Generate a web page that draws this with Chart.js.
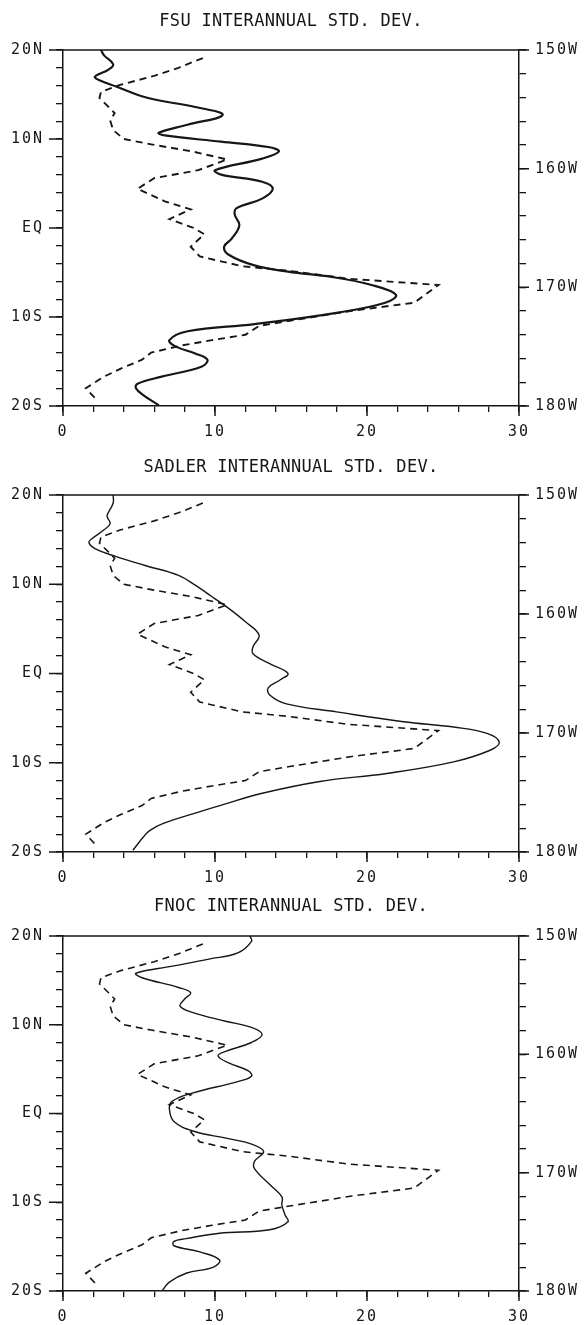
<!DOCTYPE html>
<html>
<head>
<meta charset="utf-8">
<script src="https://cdn.jsdelivr.net/npm/chart.js"></script>
<style>
  body { margin: 0; background: #fff; width: 585px; height: 1325px; overflow: hidden; position: relative; }
  canvas { position: absolute; left: 0; }
</style>
</head>
<body>
<canvas id="fsu" width="585" height="446" style="top:0"></canvas>
<canvas id="sadler" width="585" height="446" style="top:446px"></canvas>
<canvas id="fnoc" width="585" height="433" style="top:892px"></canvas>
<script>
// axis ticks
const stdTicks = [0, 10, 20, 30];
const latTicks = [20, 10, 0, -10, -20];
const latLabels = ['20N', '10N', 'EQ', '10S', '20S'];
const lonTicks = [150, 160, 170, 180];
const lonLabels = ['150W', '160W', '170W', '180W'];

// dashed curve (same in all three panels): latitude, std. dev.
const obsLat = [19.1, 18.0, 17.1, 16.1, 15.3, 14.6, 13.6, 12.9, 12.1, 11.0, 10.0, 9.4, 8.6, 7.7, 6.5, 5.6, 4.4, 3.0, 2.1, 1.0, 0.0, -0.7, -2.1, -3.2, -4.3, -4.8, -5.7, -6.4, -8.4, -9.3, -10.4, -11.0, -12.0, -12.6, -13.2, -14.0, -14.8, -15.8, -16.7, -18.0, -19.1];
const obsStd = [9.2, 7.6, 6.0, 3.8, 2.5, 2.4, 3.0, 3.4, 3.1, 3.3, 4.0, 5.8, 8.5, 10.8, 8.9, 6.0, 4.9, 6.7, 8.4, 7.0, 8.6, 9.3, 8.4, 9.0, 11.8, 14.8, 18.8, 24.7, 23.1, 19.0, 15.0, 12.9, 12.0, 9.8, 7.8, 5.8, 5.2, 3.8, 2.7, 1.5, 2.1];

// FSU solid
const fsuLat = [20.0, 19.4, 18.4, 17.8, 17.0, 16.6, 15.9, 14.6, 13.6, 12.7, 11.6, 10.7, 10.4, 9.7, 9.1, 8.6, 7.8, 6.5, 6.0, 5.2, 4.4, 3.3, 2.2, 1.5, 0.3, -1.2, -2.1, -3.0, -4.2, -4.9, -5.5, -6.4, -7.5, -8.4, -9.5, -10.8, -11.6, -12.6, -13.3, -14.1, -14.8, -15.6, -16.7, -17.5, -18.0, -18.8, -19.9];
const fsuStd = [2.5, 2.7, 3.3, 3.0, 2.1, 2.4, 3.5, 5.6, 8.7, 10.5, 8.2, 6.3, 6.7, 10.4, 13.5, 14.2, 13.1, 10.0, 10.4, 13.1, 13.8, 13.1, 11.4, 11.3, 11.6, 11.1, 10.6, 10.9, 12.6, 14.8, 17.7, 20.3, 21.9, 21.2, 18.1, 12.6, 8.2, 7.0, 7.4, 8.7, 9.5, 9.1, 6.5, 4.9, 4.8, 5.3, 6.3];

// SADLER solid
const sadLat = [20.0, 19.1, 18.1, 17.6, 16.8, 16.1, 15.1, 14.7, 14.0, 13.1, 12.1, 11.0, 9.9, 8.6, 7.3, 5.8, 4.3, 3.0, 2.2, 1.1, 0.0, -0.7, -1.6, -2.4, -3.4, -4.3, -5.4, -6.0, -6.7, -7.7, -8.6, -9.9, -11.2, -12.1, -13.5, -14.6, -15.7, -16.8, -17.6, -18.3, -19.8];
const sadStd = [3.3, 3.3, 3.0, 2.9, 3.1, 2.7, 1.9, 1.7, 2.1, 3.5, 5.4, 7.6, 8.7, 9.8, 10.9, 12.0, 12.9, 12.5, 12.5, 13.6, 14.8, 14.3, 13.5, 13.6, 14.7, 18.0, 22.4, 25.7, 27.9, 28.7, 28.1, 25.7, 21.3, 16.9, 12.9, 10.7, 8.6, 6.6, 5.7, 5.3, 4.6];

// FNOC solid
const fnocLat = [20.0, 19.4, 18.1, 17.4, 16.6, 15.8, 15.3, 14.2, 13.6, 12.9, 12.1, 11.4, 10.4, 9.7, 8.9, 8.0, 7.0, 6.5, 5.7, 4.8, 4.2, 3.6, 2.3, 1.4, 0.5, -0.9, -2.0, -2.8, -3.5, -4.3, -5.4, -6.2, -8.0, -9.4, -10.3, -11.4, -12.2, -13.1, -13.5, -14.1, -14.4, -14.9, -15.6, -16.5, -17.3, -18.0, -19.0, -20.0];
const fnocStd = [12.3, 12.4, 11.5, 9.6, 7.2, 4.8, 5.2, 7.6, 8.4, 8.0, 7.7, 8.5, 10.7, 12.4, 13.1, 12.4, 10.7, 10.2, 10.9, 12.2, 12.4, 11.5, 8.5, 7.2, 7.0, 7.3, 8.6, 10.8, 12.5, 13.2, 12.6, 12.6, 13.6, 14.4, 14.4, 14.6, 14.8, 13.6, 10.3, 8.1, 7.3, 7.3, 9.0, 10.3, 9.9, 8.1, 7.0, 6.5];

const INK = '#161616';
const FONT = "'DejaVu Sans Mono', monospace";

const toPoints = (lat, std) => lat.map((y, i) => ({ x: std[i], y }));

// plotter look: spaced lettering, title, top frame line, longer major ticks
const plotterLook = {
  id: 'plotterLook',
  beforeDraw(chart) { chart.ctx.letterSpacing = '2px'; },
  afterDraw(chart, args, opts) {
    const { ctx, chartArea: a, scales } = chart;
    ctx.save();
    ctx.letterSpacing = '0.3px';
    ctx.fillStyle = INK;
    ctx.font = "17px " + FONT;
    ctx.textAlign = 'center';
    ctx.textBaseline = 'middle';
    ctx.fillText(opts.title, (a.left + a.right) / 2, opts.titleY);

    ctx.strokeStyle = INK;
    ctx.lineWidth = 1.5;
    ctx.beginPath();
    ctx.moveTo(a.left, a.top);
    ctx.lineTo(a.right, a.top);
    latTicks.forEach(v => {
      const y = scales.y.getPixelForValue(v);
      ctx.moveTo(a.left - 14, y); ctx.lineTo(a.left, y);
    });
    lonTicks.forEach(v => {
      const y = scales.lon.getPixelForValue(v);
      ctx.moveTo(a.right, y); ctx.lineTo(a.right + 10, y);
    });
    stdTicks.forEach(v => {
      const x = scales.x.getPixelForValue(v);
      ctx.moveTo(x, a.bottom); ctx.lineTo(x, a.bottom + 10);
    });
    ctx.stroke();
    ctx.restore();
  }
};

function axisGrid(len) {
  return { drawOnChartArea: false, drawTicks: true, tickLength: len, color: INK, lineWidth: 1.3 };
}

function makePanel(id, title, lat, std, o) {
  new Chart(document.getElementById(id), {
    type: 'scatter',
    data: {
      datasets: [
        {
          data: toPoints(lat, std),
          showLine: true,
          borderColor: INK,
          borderWidth: o.solidWidth,
          tension: 0.4,
          pointRadius: 0
        },
        {
          data: toPoints(obsLat, obsStd),
          showLine: true,
          borderColor: INK,
          borderWidth: o.dashWidth,
          borderDash: [7, 5],
          tension: 0,
          pointRadius: 0
        }
      ]
    },
    options: {
      responsive: false,
      animation: false,
      devicePixelRatio: 1,
      layout: { padding: { top: o.top, left: 0, right: 0, bottom: 0 } },
      plugins: {
        legend: { display: false },
        tooltip: { enabled: false },
        title: { display: false },
        plotterLook: { title, titleY: o.titleY }
      },
      scales: {
        x: {
          type: 'linear', position: 'bottom', min: 0, max: 30,
          afterFit: s => { s.height = o.bottomH; },
          border: { color: INK, width: 1.5 },
          grid: axisGrid(6),
          ticks: {
            stepSize: 2, autoSkip: false, maxRotation: 0, padding: 11, color: INK,
            font: { family: FONT, size: 15 },
            callback: v => stdTicks.includes(v) ? String(v) : ''
          }
        },
        y: {
          type: 'linear', position: 'left', min: -20, max: 20,
          afterFit: s => { s.width = 63; },
          border: { color: INK, width: 1.5 },
          grid: axisGrid(7),
          ticks: {
            stepSize: 2, autoSkip: false, padding: 12, color: INK,
            font: { family: FONT, size: 15 },
            callback: v => latTicks.includes(v) ? latLabels[latTicks.indexOf(v)] : ''
          }
        },
        lon: {
          type: 'linear', position: 'right', display: true, min: 150, max: 180, reverse: true,
          afterFit: s => { s.width = 66; },
          border: { color: INK, width: 1.5 },
          grid: axisGrid(7),
          ticks: {
            stepSize: 2, autoSkip: false, padding: 9, color: INK,
            font: { family: FONT, size: 15 },
            callback: v => lonTicks.includes(v) ? lonLabels[lonTicks.indexOf(v)] : ''
          }
        }
      }
    },
    plugins: [plotterLook]
  });
}

makePanel('fsu', 'FSU INTERANNUAL STD. DEV.', fsuLat, fsuStd,
  { solidWidth: 2.2, dashWidth: 1.9, top: 50, titleY: 22, bottomH: 40 });
makePanel('sadler', 'SADLER INTERANNUAL STD. DEV.', sadLat, sadStd,
  { solidWidth: 1.4, dashWidth: 1.6, top: 49, titleY: 22, bottomH: 40 });
makePanel('fnoc', 'FNOC INTERANNUAL STD. DEV.', fnocLat, fnocStd,
  { solidWidth: 1.4, dashWidth: 1.6, top: 44, titleY: 15, bottomH: 34 });
</script>
</body>
</html>
